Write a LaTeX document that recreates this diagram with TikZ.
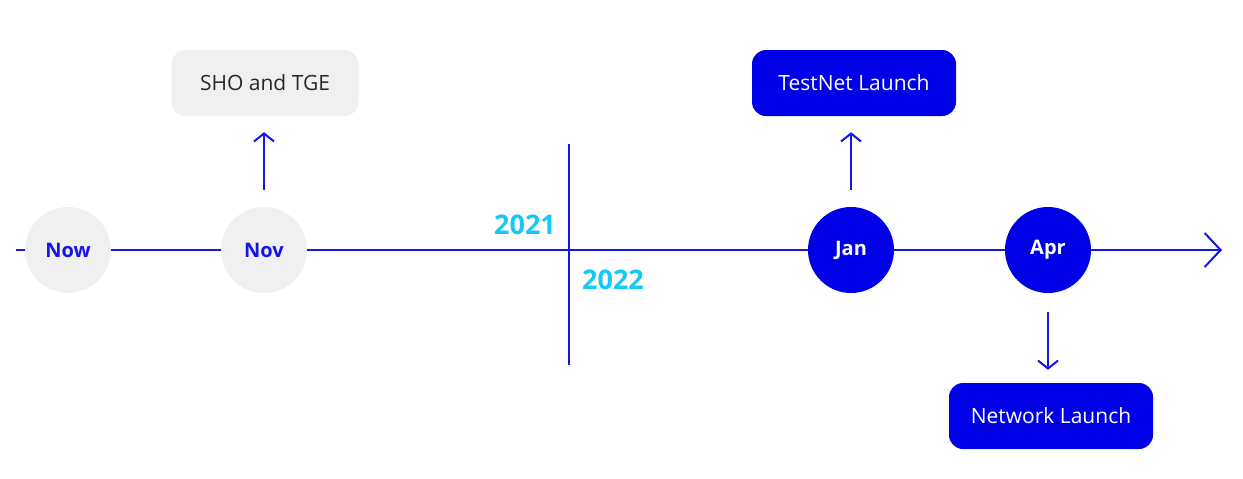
\documentclass[tikz,border=0pt]{standalone}
\usepackage{fontspec}
\setmainfont{Open Sans}
\usetikzlibrary{arrows.meta}
\definecolor{tlblue}{RGB}{20,20,235}
\definecolor{boxblue}{RGB}{0,0,230}
\definecolor{lightgray}{RGB}{240,240,240}
\definecolor{yearcyan}{RGB}{20,200,250}
\definecolor{darktext}{RGB}{40,40,40}
\tikzset{
  greycirc/.style={circle, fill=lightgray, minimum size=86pt, inner sep=0pt, text=tlblue, font=\fontsize{20}{23}\selectfont\bfseries},
  bluecirc/.style={circle, fill=boxblue, minimum size=86pt, inner sep=0pt, text=white, font=\fontsize{20}{23}\selectfont\bfseries},
  greybox/.style={rounded corners=14pt, fill=lightgray, minimum height=66pt, text=darktext, font=\fontsize{21}{24}\selectfont},
  bluebox/.style={rounded corners=14pt, fill=boxblue, minimum height=66pt, text=white, font=\fontsize{21}{24}\selectfont},
  tl/.style={draw=tlblue, line width=2pt},
  conn/.style={draw=tlblue, line width=2pt, -{Straight Barb[length=8pt, width=20pt, line width=2pt]}},
  year/.style={text=yearcyan, font=\fontsize{27}{30}\selectfont\bfseries}
}
\begin{document}
\begin{tikzpicture}[x=1pt,y=-1pt]
\useasboundingbox (0,0) rectangle (1243,479);
\coordinate (start) at (16,250);
\coordinate (end) at (1222,250);
\coordinate (vtop) at (569,144);
\coordinate (vbot) at (569,365);
\draw[tl, -{Straight Barb[length=16pt, width=34pt, line width=2pt]}] (start) -- (end);
\draw[tl] (vtop) -- (vbot);
\node[greycirc] (now) at (68,250) {Now};
\node[greycirc] (nov) at (264,250) {Nov};
\node[bluecirc] (jan) at (851,250) {Jan};
\node[bluecirc] (apr) at (1048,250) {Apr};
\node[greybox, minimum width=187pt] (sho) at (265,83) {SHO and TGE};
\node[bluebox, minimum width=204pt] (test) at (854,83) {TestNet Launch};
\node[bluebox, minimum width=204pt] (net) at (1051,416) {Network Launch};
\node[year] (y21) at (525,225) {2021};
\node[year] (y22) at (613,280) {2022};
\draw[conn, shorten <=17pt, shorten >=16pt] (nov.north) -- (nov.north |- sho.south);
\draw[conn, shorten <=17pt, shorten >=16pt] (jan.north) -- (jan.north |- test.south);
\draw[conn, shorten <=19pt, shorten >=13pt] (apr.south) -- (apr.south |- net.north);
\end{tikzpicture}
\end{document}
